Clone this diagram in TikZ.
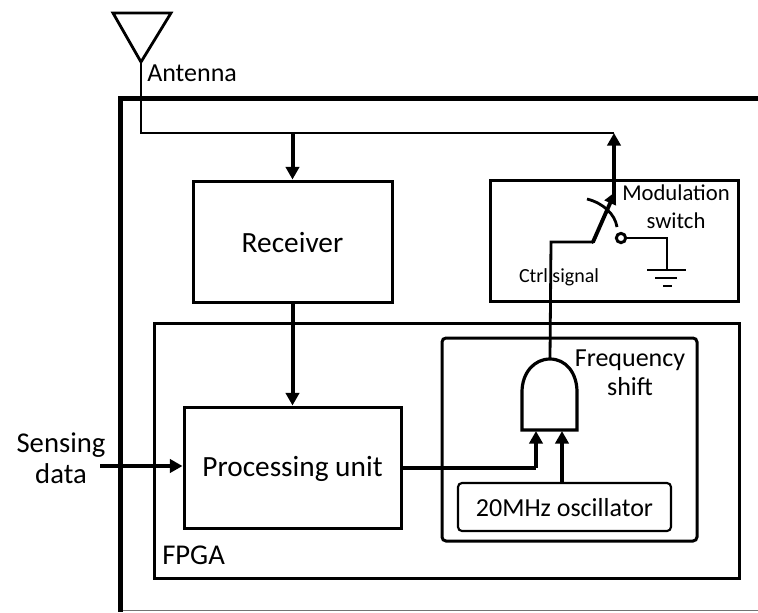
\documentclass[tikz,border=0pt]{standalone}
\usepackage{fontspec}
\setmainfont{Carlito}
\usetikzlibrary{arrows.meta}
\tikzset{
  boxa/.style={draw=black,line width=2.25pt,inner sep=0pt,sharp corners},
  boxb/.style={draw=black,line width=2.25pt,inner sep=0pt,rounded corners=3pt},
  wire/.style={draw=black,line width=2.1pt},
  flow/.style={draw=black,line width=3pt,-{Triangle[length=9.5pt,width=10pt]}},
  labbig/.style={inner sep=0pt,align=center,font=\fontsize{22}{23}\selectfont},
  labmid/.style={inner sep=0pt,align=center,font=\fontsize{19.5}{22}\selectfont},
  labmod/.style={inner sep=0pt,align=center,font=\fontsize{17}{21}\selectfont},
  labctl/.style={inner sep=0pt,align=center,font=\fontsize{15}{18}\selectfont}
}
\begin{document}
\begin{tikzpicture}[x=0.75pt,y=-0.75pt]
\useasboundingbox (0,0) rectangle (758,612);
% outer frame
\draw[draw=black!55,line width=1.3pt] (120,610.5) -- (758,610.5);
\draw[draw=black,line width=3.75pt] (758,98) -- (120.5,98) -- (120.5,612);
% boxes
\node[boxa,minimum width=149.25pt,minimum height=90.75pt] (rx) at (292.5,241.5) {};
\node[labbig] (rxtext) at (292.5,243) {Receiver};
\node[boxa,minimum width=186pt,minimum height=90.75pt] (mod) at (614,240.5) {};
\node[boxa,minimum width=438.75pt,minimum height=191.25pt] (fpga) at (446.5,450.5) {};
\node[boxa,minimum width=162.75pt,minimum height=90.75pt] (pu) at (292.5,467.5) {};
\node[labbig] (putext) at (292.5,469) {Processing unit};
\node[boxb,minimum width=191.25pt,minimum height=152.25pt] (fs) at (569.5,439.5) {};
\node[boxb,line width=1.6pt,minimum width=159.75pt,minimum height=36pt] (osc) at (564.5,507) {};
\node[labmid] (osctext) at (564.5,507.5) {20MHz oscillator};
\node[labmid,text width=120pt] (fstext) at (630,372.5) {Frequency\\shift};
\node[labmod,text width=120pt] (modtext) at (676,207) {Modulation\\switch};
\node[labmid,anchor=west] (anttext) at (147,73) {Antenna};
\node[labctl] (ctrltext) at (559,277) {Ctrl signal};
\node[labbig,anchor=west,font=\fontsize{21.5}{23}\selectfont] (fpgatext) at (162,555) {FPGA};
\node[labbig,font=\fontsize{21.5}{23.3}\selectfont,text width=100pt] (sense) at (61,458) {Sensing\\data};
% antenna
\coordinate (anttip) at (141,62);
\draw[wire,line join=miter] (113,13) -- (171,13) -- (anttip) -- cycle;
\coordinate (bus) at (141,133);
\coordinate (busrx) at (292.5,133);
\coordinate (busend) at (614,133);
\draw[wire] (anttip) -- (bus) -- (busend);
\draw[flow] (busrx) -- (rx.north);
\draw[flow] (rx.south) -- (pu.north);
% sensing in
\coordinate (sin) at (100,466);
\draw[flow] (sin) -- (pu.west |- sin);
% AND gate
\coordinate (gl) at (522,430);
\coordinate (gr) at (577,430);
\coordinate (gt) at (550,359);
\draw[wire,line width=2.4pt] (gl) -- (gr) -- (577,392) .. controls (577,373) and (566,359) .. (gt) .. controls (534,359) and (522,373) .. (522,392) -- cycle;
% gate inputs
\coordinate (pout) at (401,468);
\coordinate (c1) at (536,468);
\coordinate (in1) at (536,431);
\coordinate (in2) at (562,431);
\draw[draw=black,line width=2.4pt] (pu.east |- pout) -- (c1);
\draw[flow] (c1) -- (in1);
\draw[flow] (osc.north -| in2) -- (in2);
% control
\coordinate (sw1) at (551,242);
\coordinate (sw2) at (593,242);
\coordinate (sw3) at (615,192);
\coordinate (sw4) at (614,203);
\draw[wire] (gt) -- (sw1) -- (sw2);
\draw[draw=black,line width=2.9pt,line cap=round,-{Triangle[length=9pt,width=9pt]}] (sw2) -- (sw3);
\draw[flow] (sw4) -- (busend);
\draw[wire] (587,199) .. controls (603,203) and (615,214) .. (617,227);
% switch contact
\node[draw=black,line width=2.2pt,circle,minimum size=7pt,inner sep=0pt,fill=white] (cont) at (621,238) {};
\coordinate (g1) at (667,238);
\coordinate (g2) at (667,270);
\draw[wire] (cont) -- (g1) -- (g2);
\coordinate (g3a) at (647,270); \coordinate (g3b) at (686,270);
\coordinate (g4a) at (655,278); \coordinate (g4b) at (677,278);
\coordinate (g5a) at (663,286); \coordinate (g5b) at (672,286);
\draw[wire] (g3a) -- (g3b);
\draw[wire] (g4a) -- (g4b);
\draw[wire] (g5a) -- (g5b);
\end{tikzpicture}
\end{document}
